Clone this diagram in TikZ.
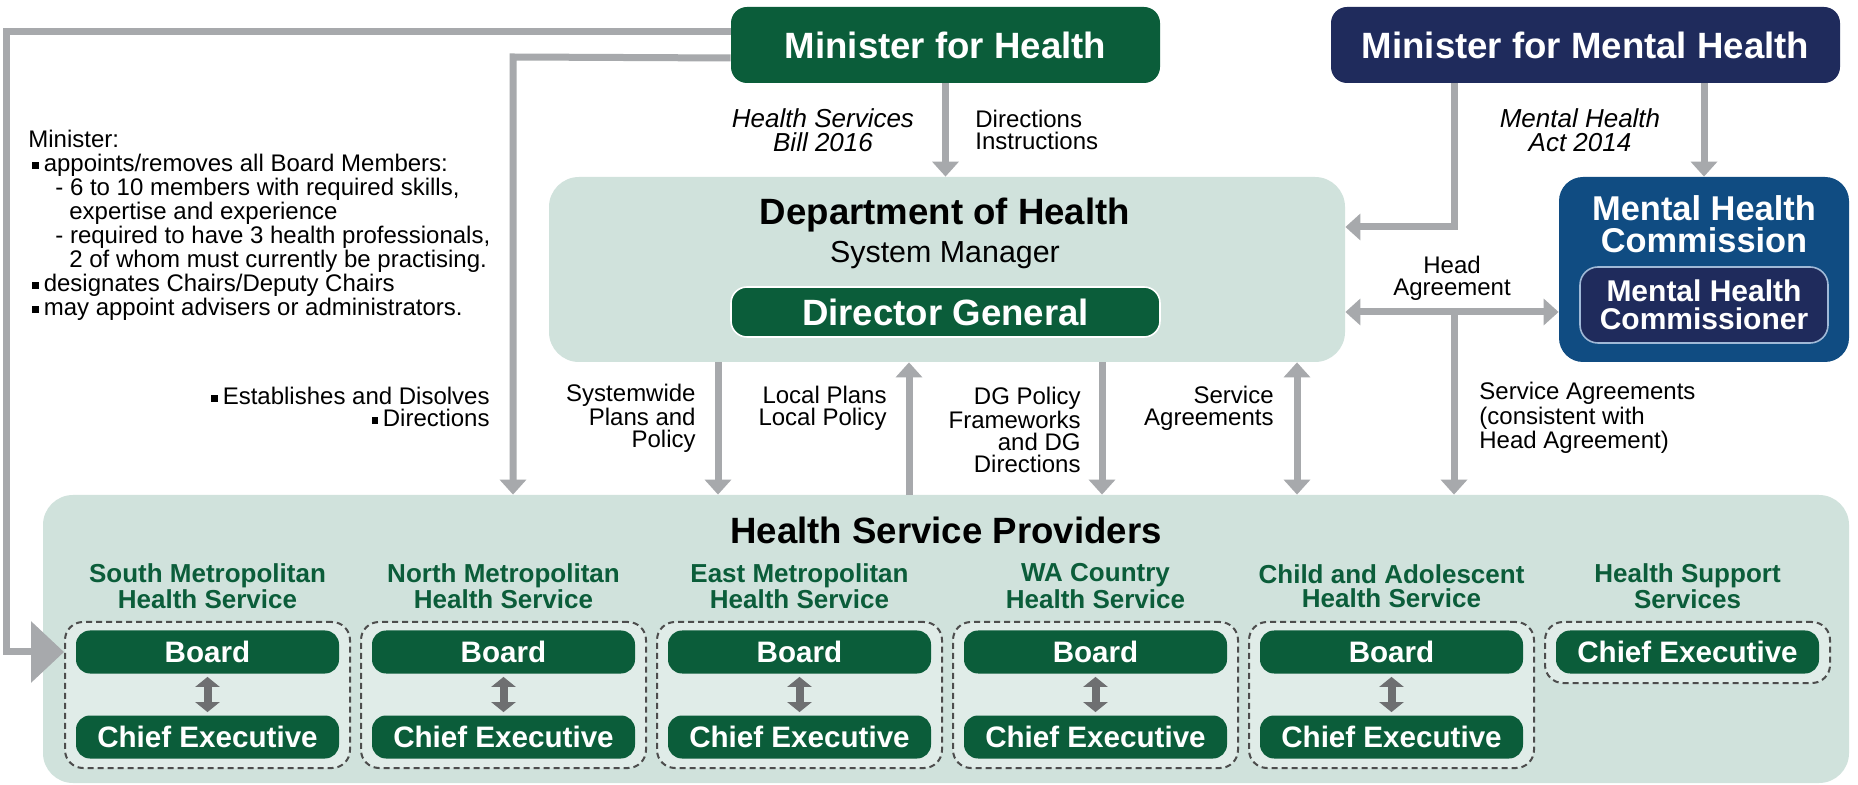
\documentclass[tikz,border=0pt]{standalone}
\usepackage{fontspec}
\setmainfont{Liberation Sans}
\usetikzlibrary{arrows.meta,positioning,calc}

\definecolor{hgreen}{RGB}{11,93,58}
\definecolor{hnavy}{RGB}{31,43,92}
\definecolor{hblue}{RGB}{16,76,130}
\definecolor{hpanel}{RGB}{208,226,220}
\definecolor{hgroup}{RGB}{224,236,232}
\definecolor{hgrey}{RGB}{167,169,172}
\definecolor{hdark}{RGB}{110,111,113}
\definecolor{hdash}{RGB}{77,77,77}
\definecolor{hline}{RGB}{160,185,215}

\newcommand{\fsz}[2]{\fontsize{#1}{#2}\selectfont}
\newcommand{\sqbul}{\rule[1.5pt]{3.2pt}{3.2pt}\hspace{2.5pt}}

\tikzset{
  gtri/.tip={Triangle[length=7.5pt,width=13pt]},
  topbox/.style={rounded corners=8pt, text=white, font=\bfseries\fsz{18.3}{20}, minimum width=214.5pt, minimum height=38pt, inner sep=0pt},
  panel/.style={fill=hpanel, rounded corners=15pt, inner sep=0pt},
  grp/.style={draw=hdash, fill=hgroup, line width=1pt, dash pattern=on 3pt off 2pt, rounded corners=9pt, minimum width=142.5pt, inner sep=0pt},
  unit/.style={fill=hgreen, rounded corners=7pt, text=white, font=\bfseries\fsz{14.8}{16}, minimum width=131.5pt, minimum height=21.5pt, inner sep=0pt},
  svc/.style={text=hgreen, font=\bfseries\fsz{13}{12}, align=center, inner sep=0pt},
  lbl/.style={font=\fsz{12}{11}, inner sep=0pt},
  ital/.style={font=\itshape\fsz{13}{12}, align=center, inner sep=0pt},
  garrow/.style={draw=hgrey, line width=3.5pt, -gtri},
  link/.style={draw=hdark, line width=4pt, shorten <=1.5pt, shorten >=1.5pt, {Triangle[length=5pt,width=12pt]}-{Triangle[length=5pt,width=12pt]}},
}

\begin{document}
\begin{tikzpicture}[x=0.5pt, y=-0.5pt]
  \fill[white] (0,0) rectangle (1858,785);

  % ministers
  \node[topbox, fill=hgreen] (mfh) at (945.5,45) {Minister for Health};
  \node[topbox, fill=hnavy, minimum width=254.5pt] (mfmh) at (1585.5,45) {Minister for Mental Health};

  % department
  \node[panel, minimum width=398pt, minimum height=92.5pt] (dept) at (947,269.5) {};
  \node[font=\bfseries\fsz{18.3}{20}] (depttitle) at (945,215) {Department of Health};
  \node[font=\fsz{15.2}{16}] (sysman) at (945,255) {System Manager};
  \node[topbox, fill=hgreen, draw=white, line width=0.8pt, minimum height=25pt] (dg) at (945.5,312) {Director General};

  % commission
  \node[fill=hblue, rounded corners=12pt, minimum width=145pt, minimum height=92.5pt, inner sep=0pt] (mhc) at (1704,269.5) {};
  \node[text=white, font=\bfseries\fsz{17.2}{16}, align=center] (mhctitle) at (1704,224) {Mental Health\\Commission};
  \node[fill=hnavy, draw=hline, line width=0.8pt, rounded corners=9pt, minimum width=124pt, minimum height=38pt, inner sep=0pt, text=white, font=\bfseries\fsz{15}{14}, align=center] (mhcr) at (1704,305) {Mental Health\\Commissioner};

  % providers
  \node[panel, minimum width=903pt, minimum height=144pt] (hsp) at (946,639) {};
  \node[font=\bfseries\fsz{18.3}{20}] (hsptitle) at (946,530) {Health Service Providers};

  \node[svc] (smname) at (207.5,586) {South Metropolitan\\Health Service};
  \node[grp, minimum height=73pt] (smgrp) at (207.5,695) {};
  \node[unit] (smboard) at (207.5,652) {Board};
  \node[unit] (smce) at (207.5,737) {Chief Executive};
  \draw[link] (smboard) -- (smce);

  \node[svc] (nmname) at (503.5,586) {North Metropolitan\\Health Service};
  \node[grp, minimum height=73pt] (nmgrp) at (503.5,695) {};
  \node[unit] (nmboard) at (503.5,652) {Board};
  \node[unit] (nmce) at (503.5,737) {Chief Executive};
  \draw[link] (nmboard) -- (nmce);

  \node[svc] (emname) at (799.5,586) {East Metropolitan\\Health Service};
  \node[grp, minimum height=73pt] (emgrp) at (799.5,695) {};
  \node[unit] (emboard) at (799.5,652) {Board};
  \node[unit] (emce) at (799.5,737) {Chief Executive};
  \draw[link] (emboard) -- (emce);

  \node[svc] (waname) at (1095.5,586) {WA Country\\Health Service};
  \node[grp, minimum height=73pt] (wagrp) at (1095.5,695) {};
  \node[unit] (waboard) at (1095.5,652) {Board};
  \node[unit] (wace) at (1095.5,737) {Chief Executive};
  \draw[link] (waboard) -- (wace);

  \node[svc] (caname) at (1391.5,586) {Child and Adolescent\\Health Service};
  \node[grp, minimum height=73pt] (cagrp) at (1391.5,695) {};
  \node[unit] (caboard) at (1391.5,652) {Board};
  \node[unit] (cace) at (1391.5,737) {Chief Executive};
  \draw[link] (caboard) -- (cace);

  \node[svc] (hssname) at (1687.5,586) {Health Support\\Services};
  \node[grp, minimum height=30.5pt] (hssgrp) at (1687.5,652.5) {};
  \node[unit] (hssce) at (1687.5,652) {Chief Executive};

  % connectors
  \coordinate (outl) at (6,32);
  \coordinate (outb) at (6,652);
  \coordinate (inl) at (513,57);
  \coordinate (mmb) at (1454,227);
  \coordinate (ha) at (1454,312);

  \draw[garrow, -{Triangle[length=16.5pt,width=30pt]}] ($(mfh.west)+(0,-13)$) -- (outl) -- (outb) -- (smgrp.west |- smboard);
  \draw[garrow] ($(mfh.west)+(0,13)$) -- (inl) -- (inl |- hsp.north);
  \draw[garrow] (mfh.south) -- (mfh.south |- dept.north);
  \draw[garrow] (mmb |- mfmh.south) -- (mmb) -- (dept.east |- mmb);
  \draw[garrow] (mhc.north |- mfmh.south) -- (mhc.north);
  \draw[garrow, gtri-gtri] (dept.east |- ha) -- (mhc.west |- ha);
  \draw[garrow] (ha) -- (ha |- hsp.north);

  \draw[garrow] (718,0 |- dept.south) -- (718,0 |- hsp.north);
  \draw[garrow, gtri-] (909,0 |- dept.south) -- (909,0 |- hsp.north);
  \draw[garrow] (1102,0 |- dept.south) -- (1102,0 |- hsp.north);
  \draw[garrow, gtri-gtri] (1297,0 |- dept.south) -- (1297,0 |- hsp.north);

  % labels
  \node[ital] (hsbill) at (823,130) {Health Services\\Bill 2016};
  \node[lbl, align=left, anchor=west] (dirins) at (975,130) {Directions\\Instructions};
  \node[ital] (mhact) at (1580,130) {Mental Health\\Act 2014};
  \node[lbl, align=center] (headag) at (1452,278) {Head\\Agreement};
  \node[lbl, align=left, anchor=west] (svcag) at (1479,418) {Service Agreements\\(consistent with\\Head Agreement)};
  \node[lbl, align=right, anchor=east] (syswide) at (696,418) {Systemwide\\Plans and\\Policy};
  \node[lbl, align=right, anchor=east] (local) at (887,408) {Local Plans\\Local Policy};
  \node[lbl, align=right, anchor=east] (dgpol) at (1081,430) {DG Policy\\Frameworks\\and DG\\Directions};
  \node[lbl, align=right, anchor=east] (svcag2) at (1274,408) {Service\\Agreements};
  \node[lbl, align=right, anchor=east] (estab) at (490,407) {\sqbul Establishes and Disolves\\\sqbul Directions};
  \node[lbl, font=\fsz{12}{12}, align=left, anchor=north west] (minlist) at (28,130) {Minister:\\
    \hspace*{2pt}\sqbul appoints/removes all Board Members:\\
    \hspace*{13.5pt}- 6 to 10 members with required skills,\\
    \hspace*{20.5pt}expertise and experience\\
    \hspace*{13.5pt}- required to have 3 health professionals,\\
    \hspace*{20.5pt}2 of whom must currently be practising.\\
    \hspace*{2pt}\sqbul designates Chairs/Deputy Chairs\\
    \hspace*{2pt}\sqbul may appoint advisers or administrators.};
\end{tikzpicture}
\end{document}
